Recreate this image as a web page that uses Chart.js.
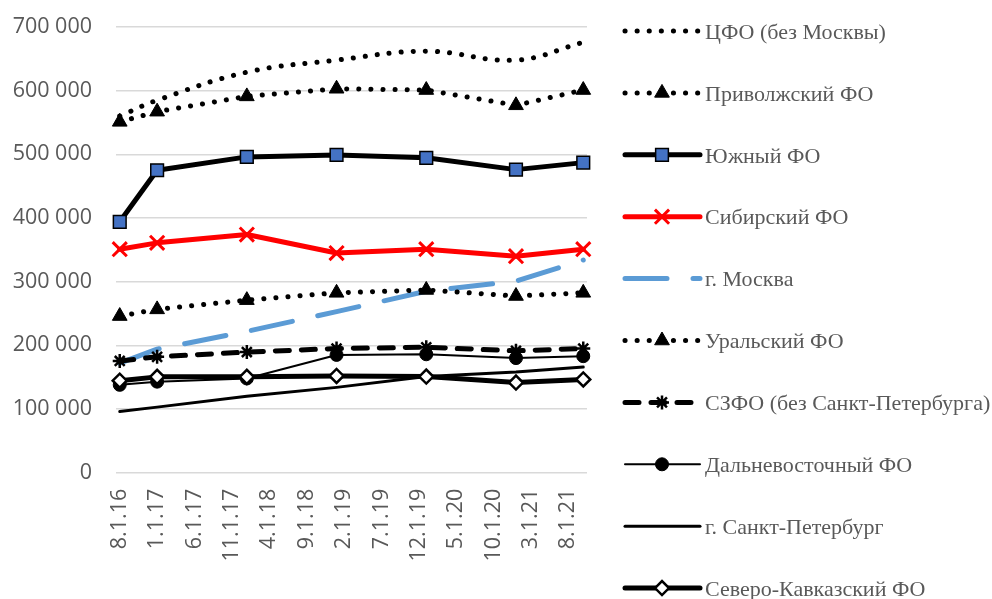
<!DOCTYPE html>
<html><head><meta charset="utf-8">
<script src="https://cdn.jsdelivr.net/npm/chart.js@4.4.1/dist/chart.umd.min.js"></script>
<style>html,body{margin:0;padding:0;background:#fff;}#wrap{width:992px;height:599px;position:relative;}</style>
</head><body><div id="wrap"><canvas id="c"></canvas></div>
<script>
// ---- data ----
const periods = ['2016-08','2017-01','2018-01','2019-01','2020-01','2021-01','2021-10'];
const tickLabels = ['8.1.16','1.1.17','6.1.17','11.1.17','4.1.18','9.1.18','2.1.19','7.1.19','12.1.19','5.1.20','10.1.20','3.1.21','8.1.21'];
const yTickValues = [0,100000,200000,300000,400000,500000,600000,700000];

const seriesNames = ['ЦФО (без Москвы)','Приволжский ФО','Южный ФО','Сибирский ФО','г. Москва','Уральский ФО','СЗФО (без Санкт-Петербурга)','Дальневосточный ФО','г. Санкт-Петербург','Северо-Кавказский ФО'];
const cfo      = [560000, 585000, 629000, 648000, 662000, 648000, 676000];
const privolzh = [551000, 567000, 591000, 603000, 601000, 577000, 601000];
const yuzhny   = [394000, 475000, 496000, 499000, 494500, 476000, 487000];
const sibir    = [351000, 361000, 374000, 345000, 351000, 340000, 351000];
const moscow   = [172000, 194000, 222000, 253000, 285000, 301000, 334000];
const ural     = [246000, 256500, 271000, 282500, 287000, 277500, 282500];
const szfo     = [175500, 182000, 189500, 195000, 197000, 191500, 195000];
const dfo      = [138000, 143000, 148000, 185000, 186000, 180000, 183000];
const spb      = [96000, 103000, 120000, 134000, 151000, 158000, 166000];
const skfo     = [144500, 150500, 150500, 152000, 151000, 141500, 146500];

// ---- helpers ----
const START_Y = 2016, START_M = 8;
function monthIndex(y, m){ return (y - START_Y) * 12 + (m - START_M); }
const xVals = periods.map(p => { const [y, m] = p.split('-').map(Number); return monthIndex(y, m); });
const tickVals = tickLabels.map(t => { const [m, d, yy] = t.split('.').map(Number); return monthIndex(2000 + yy, m); });
const pts = arr => arr.map((v, i) => ({x: xVals[i], y: v}));
const fmt = v => String(v).replace(/\B(?=(\d{3})+(?!\d))/g, ' ');

const dotted = [0.1, 12];
function ds(i, data, o){
  return Object.assign({
    label: seriesNames[i], data: pts(data), order: -i, clip: false,
    borderColor: '#000', borderWidth: 5, borderCapStyle: 'round', borderJoinStyle: 'round',
    tension: 0, pointRadius: 0, pointStyle: false, pointBorderColor: '#000', pointBackgroundColor: '#000', pointBorderWidth: 1,
    fill: false
  }, o);
}
const datasets = [
  ds(0, cfo,      {borderDash: dotted, tension: 0.4, pointRadius: 0, pointStyle: false}),
  ds(1, privolzh, {borderDash: dotted, pointStyle: 'triangle', pointRadius: 8.5}),
  ds(2, yuzhny,   {pointStyle: 'rect', pointRadius: 9, pointBackgroundColor: '#4472C4', pointBorderColor: '#000', pointBorderWidth: 1.5}),
  ds(3, sibir,    {borderColor: '#FF0000', pointStyle: 'crossRot', pointRadius: 10, pointBorderColor: '#FF0000', pointBackgroundColor: '#FF0000', pointBorderWidth: 3}),
  ds(4, moscow,   {borderColor: '#5B9BD5', borderDash: [42, 26]}),
  ds(5, ural,     {borderDash: dotted, pointStyle: 'triangle', pointRadius: 8.5}),
  ds(6, szfo,     {borderDash: [14, 12], pointStyle: 'star', pointRadius: 7, pointBorderWidth: 2.5}),
  ds(7, dfo,      {borderWidth: 2, pointStyle: 'circle', pointRadius: 6.5, pointBorderWidth: 1}),
  ds(8, spb,      {borderWidth: 3}),
  ds(9, skfo,     {pointStyle: 'rectRot', pointRadius: 7, pointBackgroundColor: '#fff', pointBorderColor: '#000', pointBorderWidth: 2.5})
];

// ---- custom side legend ----
const sideLegend = {
  id: 'sideLegend',
  afterDraw(chart){
    const ctx = chart.ctx;
    const x0 = 625, x1 = 700, xm = 662, xt = 705, y0 = 31, step = 61.9;
    chart.data.datasets.forEach((d, i) => {
      const y = y0 + step * i;
      ctx.save();
      ctx.beginPath();
      ctx.setLineDash(d.borderDash || []);
      ctx.lineDashOffset = 0;
      ctx.lineCap = d.borderCapStyle || 'butt';
      ctx.lineWidth = d.borderWidth;
      ctx.strokeStyle = d.borderColor;
      ctx.moveTo(x0, y); ctx.lineTo(x1, y); ctx.stroke();
      ctx.setLineDash([]);
      if (d.pointStyle && Chart.helpers && Chart.helpers.drawPoint) {
        ctx.fillStyle = d.pointBackgroundColor;
        ctx.strokeStyle = d.pointBorderColor;
        ctx.lineWidth = d.pointBorderWidth;
        ctx.lineCap = 'butt';
        Chart.helpers.drawPoint(ctx, {pointStyle: d.pointStyle, radius: d.pointRadius, rotation: 0, borderWidth: d.pointBorderWidth}, xm, y);
      }
      ctx.fillStyle = '#595959';
      ctx.font = '22px "Liberation Serif", "Times New Roman", serif';
      ctx.textAlign = 'left';
      ctx.textBaseline = 'middle';
      ctx.fillText(d.label, xt, y + 2);
      ctx.restore();
    });
  }
};

new Chart(document.getElementById('c'), {
  type: 'line',
  data: { datasets },
  plugins: [sideLegend],
  options: {
    responsive: true, maintainAspectRatio: false, animation: false,
    events: [],
    layout: { padding: { top: 27, right: 405, bottom: 0, left: 0 } },
    plugins: { legend: { display: false }, tooltip: { enabled: false } },
    scales: {
      x: {
        type: 'linear', min: -0.5, max: 62.5,
        afterBuildTicks: s => { s.ticks = tickVals.map(v => ({value: v})); },
        afterFit: s => { s.height = 126.3; s.paddingLeft = 0; s.paddingRight = 0; },
        grid: { display: false, drawTicks: false },
        border: { display: false },
        ticks: {
          autoSkip: false, minRotation: 90, maxRotation: 90, padding: 16,
          color: '#595959', font: { family: '"Open Sans", sans-serif', size: 21.5 },
          callback: (v, i) => tickLabels[i]
        }
      },
      y: {
        min: 0, max: 700000,
        afterBuildTicks: s => { s.ticks = yTickValues.map(v => ({value: v})); },
        afterFit: s => { s.width = 116; s.paddingTop = 0; s.paddingBottom = 0; },
        grid: { color: '#D9D9D9', lineWidth: 1.5, drawTicks: false },
        border: { display: false },
        ticks: {
          padding: 24, color: '#595959', font: { family: '"Open Sans", sans-serif', size: 21.5 },
          callback: v => fmt(v)
        }
      }
    }
  }
});
</script>
</body></html>
